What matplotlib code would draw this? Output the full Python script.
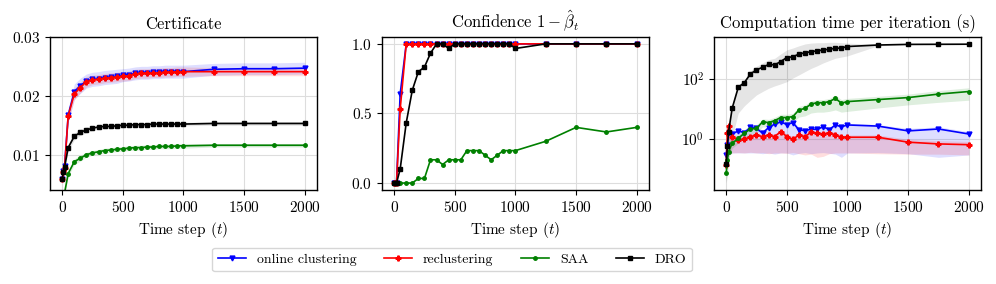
"""Certificate / confidence / computation-time comparison across the four methods."""

import numpy as np
import matplotlib
matplotlib.use("Agg")
import matplotlib.pyplot as plt

plt.rcParams.update({
    "font.family": "serif",
    "font.serif": ["cmr10", "DejaVu Serif"],
    "mathtext.fontset": "cm",
    "axes.formatter.use_mathtext": True,
    "axes.unicode_minus": False,
    "font.size": 11,
})

T = [0, 10, 20, 50, 100, 150, 200, 250, 300, 350, 400, 450, 500, 550, 600,
     650, 700, 750, 800, 850, 900, 950, 1000, 1250, 1500, 1750, 2000]

METHODS = ["online clustering", "reclustering", "SAA", "DRO"]
COLORS = ["#0000ff", "#ff0000", "#008000", "#000000"]
MARKERS = ["v", "P", "o", "s"]
MSIZES = [3.5, 3.5, 2.5, 2.8]

# ── Certificate (mean, std) ────────────────────────────────────────────
cert_online = [0.0058, 0.0072, 0.0080, 0.0167, 0.0207, 0.0217, 0.0225, 0.0228, 0.0229,
               0.0231, 0.0232, 0.0233, 0.0235, 0.0236, 0.0238, 0.0239, 0.0239, 0.0240,
               0.0240, 0.0241, 0.0241, 0.0241, 0.0241, 0.0245, 0.0246, 0.0246, 0.0247]
cert_recl = [0.0058, 0.0070, 0.0078, 0.0166, 0.0203, 0.0214, 0.0224, 0.0227, 0.0228,
             0.0230, 0.0231, 0.0232, 0.0233, 0.0234, 0.0237, 0.0238, 0.0238, 0.0239,
             0.0239, 0.0240, 0.0240, 0.0241, 0.0241, 0.0241, 0.0241, 0.0241, 0.0241]
cert_saa = [0.0015, 0.0025, 0.0035, 0.0068, 0.0088, 0.0094, 0.0100, 0.0103, 0.0105,
            0.0107, 0.0108, 0.0109, 0.0110, 0.0111, 0.0112, 0.0112, 0.0113, 0.0113,
            0.0114, 0.0114, 0.0114, 0.0115, 0.0115, 0.0116, 0.0116, 0.0116, 0.0116]
cert_dro = [0.0058, 0.0070, 0.0079, 0.0112, 0.0131, 0.0138, 0.0142, 0.0145, 0.0147,
            0.0148, 0.0148, 0.0149, 0.0150, 0.0150, 0.0151, 0.0151, 0.0151, 0.0152,
            0.0152, 0.0152, 0.0152, 0.0152, 0.0152, 0.0153, 0.0153, 0.0153, 0.0153]

cert_online_sd = [0.0005, 0.0006, 0.0008, 0.0012, 0.0013, 0.0013, 0.0012, 0.0012, 0.0012,
                  0.0012, 0.0012, 0.0012, 0.0011, 0.0011, 0.0011, 0.0011, 0.0011, 0.0011,
                  0.0011, 0.0011, 0.0011, 0.0011, 0.0011, 0.0010, 0.0010, 0.0010, 0.0010]
cert_recl_sd = [0.0004, 0.0005, 0.0006, 0.0009, 0.0010, 0.0009, 0.0009, 0.0008, 0.0008,
                0.0008, 0.0008, 0.0008, 0.0008, 0.0008, 0.0008, 0.0008, 0.0008, 0.0008,
                0.0008, 0.0008, 0.0008, 0.0008, 0.0008, 0.0007, 0.0007, 0.0007, 0.0007]
cert_saa_sd = [0.0003, 0.0003, 0.0004, 0.0005, 0.0005, 0.0005, 0.0004, 0.0004, 0.0004,
               0.0004, 0.0004, 0.0004, 0.0004, 0.0004, 0.0004, 0.0004, 0.0004, 0.0004,
               0.0004, 0.0004, 0.0004, 0.0004, 0.0004, 0.0003, 0.0003, 0.0003, 0.0003]
cert_dro_sd = [0.0003, 0.0004, 0.0005, 0.0006, 0.0006, 0.0005, 0.0005, 0.0004, 0.0004,
               0.0004, 0.0004, 0.0004, 0.0004, 0.0004, 0.0003, 0.0003, 0.0003, 0.0003,
               0.0003, 0.0003, 0.0003, 0.0003, 0.0003, 0.0003, 0.0003, 0.0003, 0.0003]

# ── Confidence 1 - beta_t ──────────────────────────────────────────────
conf_online = [0, 0, 0, 0.64, 1, 1, 1, 1, 1, 1, 1, 1, 1, 1, 1, 1, 1, 1, 1, 1,
               1, 1, 1, 1, 1, 1, 1]
conf_recl = [0, 0, 0, 0.53, 1, 1, 1, 1, 1, 1, 1, 1, 1, 1, 1, 1, 1, 1, 1, 1,
             1, 1, 1, 1, 1, 1, 1]
conf_saa = [0, 0, 0, 0, 0, 0, 0.033, 0.033, 0.167, 0.167, 0.133, 0.167, 0.167, 0.167,
            0.233, 0.233, 0.233, 0.2, 0.167, 0.2, 0.233, 0.233, 0.233, 0.3, 0.4, 0.367, 0.4]
conf_dro = [0, 0, 0, 0.1, 0.433, 0.667, 0.8, 0.833, 0.933, 1, 1, 0.967, 1, 1, 1, 1,
            1, 1, 1, 1, 1, 1, 0.967, 1, 1, 1, 1]

# ── Computation time per iteration (median, lower, upper) ──────────────
time_online = [0.3, 0.65, 1.6, 1.5, 1.9, 1.65, 2.5, 2.3, 1.6, 2.45, 3.2, 3.8, 3.1, 3.6,
               2.05, 1.95, 2.15, 2.15, 2.6, 2.1, 3.0, 2.6, 3.0, 2.75, 1.9, 2.2, 1.5]
time_recl = [0.14, 1.6, 2.8, 1.2, 0.95, 1.0, 1.23, 1.38, 1.23, 1.38, 1.23, 1.8, 1.23, 1.0,
             1.38, 1.23, 1.7, 1.6, 1.5, 1.65, 1.4, 1.17, 1.17, 1.17, 0.8, 0.7, 0.66]
time_saa = [0.074, 0.2, 0.39, 0.74, 1.07, 1.6, 2.2, 2.3, 3.8, 3.6, 4.2, 5.3, 5.3, 5.7,
            9.5, 10.7, 15, 16.5, 16.5, 18, 23, 16, 18, 21, 24.5, 32, 39]
time_dro = [0.15, 0.6, 1.8, 11, 54, 77, 150, 205, 250, 310, 300, 390, 530, 560, 690,
            760, 830, 880, 950, 1000, 1070, 1100, 1230, 1380, 1450, 1460, 1470]

time_online_lo = [0.1, 0.25, 0.3, 0.35, 0.35, 0.35, 0.35, 0.35, 0.33, 0.35, 0.32, 0.35,
                  0.35, 0.3, 0.34, 0.36, 0.33, 0.35, 0.36, 0.34, 0.32, 0.25, 0.35, 0.36,
                  0.33, 0.25, 0.3]
time_online_hi = [0.4, 0.9, 2.0, 1.9, 2.3, 2.0, 2.9, 2.7, 2.0, 2.9, 3.6, 4.3, 3.6, 4.1,
                  2.5, 2.4, 2.6, 2.6, 3.0, 2.5, 3.4, 3.0, 3.4, 3.1, 2.3, 2.6, 1.8]
time_recl_lo = [0.06, 0.3, 0.35, 0.35, 0.36, 0.35, 0.37, 0.35, 0.36, 0.33, 0.35, 0.35,
                0.34, 0.36, 0.33, 0.3, 0.32, 0.25, 0.27, 0.33, 0.35, 0.35, 0.35, 0.33,
                0.32, 0.32, 0.3]
time_recl_hi = [0.2, 2.0, 3.3, 1.5, 1.2, 1.25, 1.5, 1.6, 1.5, 1.6, 1.5, 2.1, 1.5, 1.25,
                1.6, 1.5, 2.0, 1.9, 1.8, 1.9, 1.7, 1.4, 1.4, 1.4, 1.0, 0.9, 0.85]
time_saa_lo = [0.04, 0.12, 0.25, 0.5, 0.75, 1.1, 1.5, 1.6, 2.6, 2.5, 2.9, 3.6, 3.6, 3.8,
               5.5, 6, 7.5, 8, 8, 8.5, 9.5, 8, 8.5, 11, 14, 17, 20]
time_saa_hi = [0.1, 0.28, 0.55, 1.0, 1.4, 2.1, 2.9, 3.0, 4.8, 4.6, 5.4, 6.8, 6.8, 7.3,
               12.5, 14, 19, 21, 21, 23, 29, 21, 23, 27, 32, 42, 52]
time_dro_lo = [0.035, 0.06, 0.15, 1.2, 7.5, 13, 20, 30, 39, 50, 60, 70, 83, 110, 140,
               180, 230, 280, 350, 420, 500, 550, 600, 1300, 1400, 1420, 1440]
time_dro_hi = [0.2, 0.9, 3.0, 14, 65, 95, 190, 270, 350, 450, 500, 700, 950, 1100, 1300,
               1500, 1600, 1650, 1650, 1700, 1700, 1650, 1600, 1450, 1500, 1500, 1500]


def style_axis(ax, title):
    ax.set_title(title, fontsize=12)
    ax.set_xlabel("Time step $(t)$", fontsize=11)
    ax.set_xticks([0, 500, 1000, 1500, 2000])
    ax.tick_params(labelsize=11)
    ax.grid(True, color="#dddddd", linewidth=0.8)
    ax.set_axisbelow(True)
    for sp in ax.spines.values():
        sp.set_linewidth(1.0)


def plot_series(ax, ys, bands=None):
    x = np.array(T)
    for i, y in enumerate(ys):
        if bands is not None:
            lo, hi = bands[i]
            alpha = 0.10 if COLORS[i] == "#000000" else 0.13
            ax.fill_between(x, lo, hi, color=COLORS[i], alpha=alpha, linewidth=0)
    handles = []
    for i, y in enumerate(ys):
        h, = ax.plot(x, y, color=COLORS[i], marker=MARKERS[i], markersize=MSIZES[i],
                     linewidth=1.2, label=METHODS[i])
        handles.append(h)
    return handles


def main():
    fig = plt.figure(figsize=(9.96, 2.84), dpi=100)
    w, h, b = 0.268, 0.539, 0.331
    ax1 = fig.add_axes([0.0502, b, w, h])
    ax2 = fig.add_axes([0.3835, b, w, h])
    ax3 = fig.add_axes([0.7169, b, w, h])

    # A. certificate
    certs = [cert_online, cert_recl, cert_saa, cert_dro]
    sds = [cert_online_sd, cert_recl_sd, cert_saa_sd, cert_dro_sd]
    bands = [(np.array(m) - np.array(s), np.array(m) + np.array(s)) for m, s in zip(certs, sds)]
    handles = plot_series(ax1, certs, bands)
    ax1.set_ylim(0.004, 0.03)
    ax1.set_yticks([0.01, 0.02, 0.03])
    ax1.set_xlim(-100, 2100)
    style_axis(ax1, "Certificate")

    # B. confidence
    plot_series(ax2, [conf_online, conf_recl, conf_saa, conf_dro])
    ax2.set_ylim(-0.05, 1.05)
    ax2.set_yticks([0.0, 0.5, 1.0])
    ax2.set_xlim(-100, 2100)
    style_axis(ax2, r"Confidence $1-\hat{\beta}_t$")

    # C. computation time
    times = [time_online, time_recl, time_saa, time_dro]
    tbands = [(time_online_lo, time_online_hi), (time_recl_lo, time_recl_hi),
              (time_saa_lo, time_saa_hi), (time_dro_lo, time_dro_hi)]
    plot_series(ax3, times, tbands)
    ax3.set_yscale("log")
    ax3.set_ylim(10 ** -1.69, 10 ** 3.41)
    ax3.set_yticks([1, 100])
    ax3.yaxis.set_minor_locator(matplotlib.ticker.NullLocator())
    ax3.set_xlim(-100, 2100)
    style_axis(ax3, "Computation time per iteration (s)")

    fig.legend(handles=handles, loc="center", bbox_to_anchor=(0.454, 0.086), ncol=4,
               fontsize=10)
    fig.savefig("out.png", dpi=100)


if __name__ == "__main__":
    main()
